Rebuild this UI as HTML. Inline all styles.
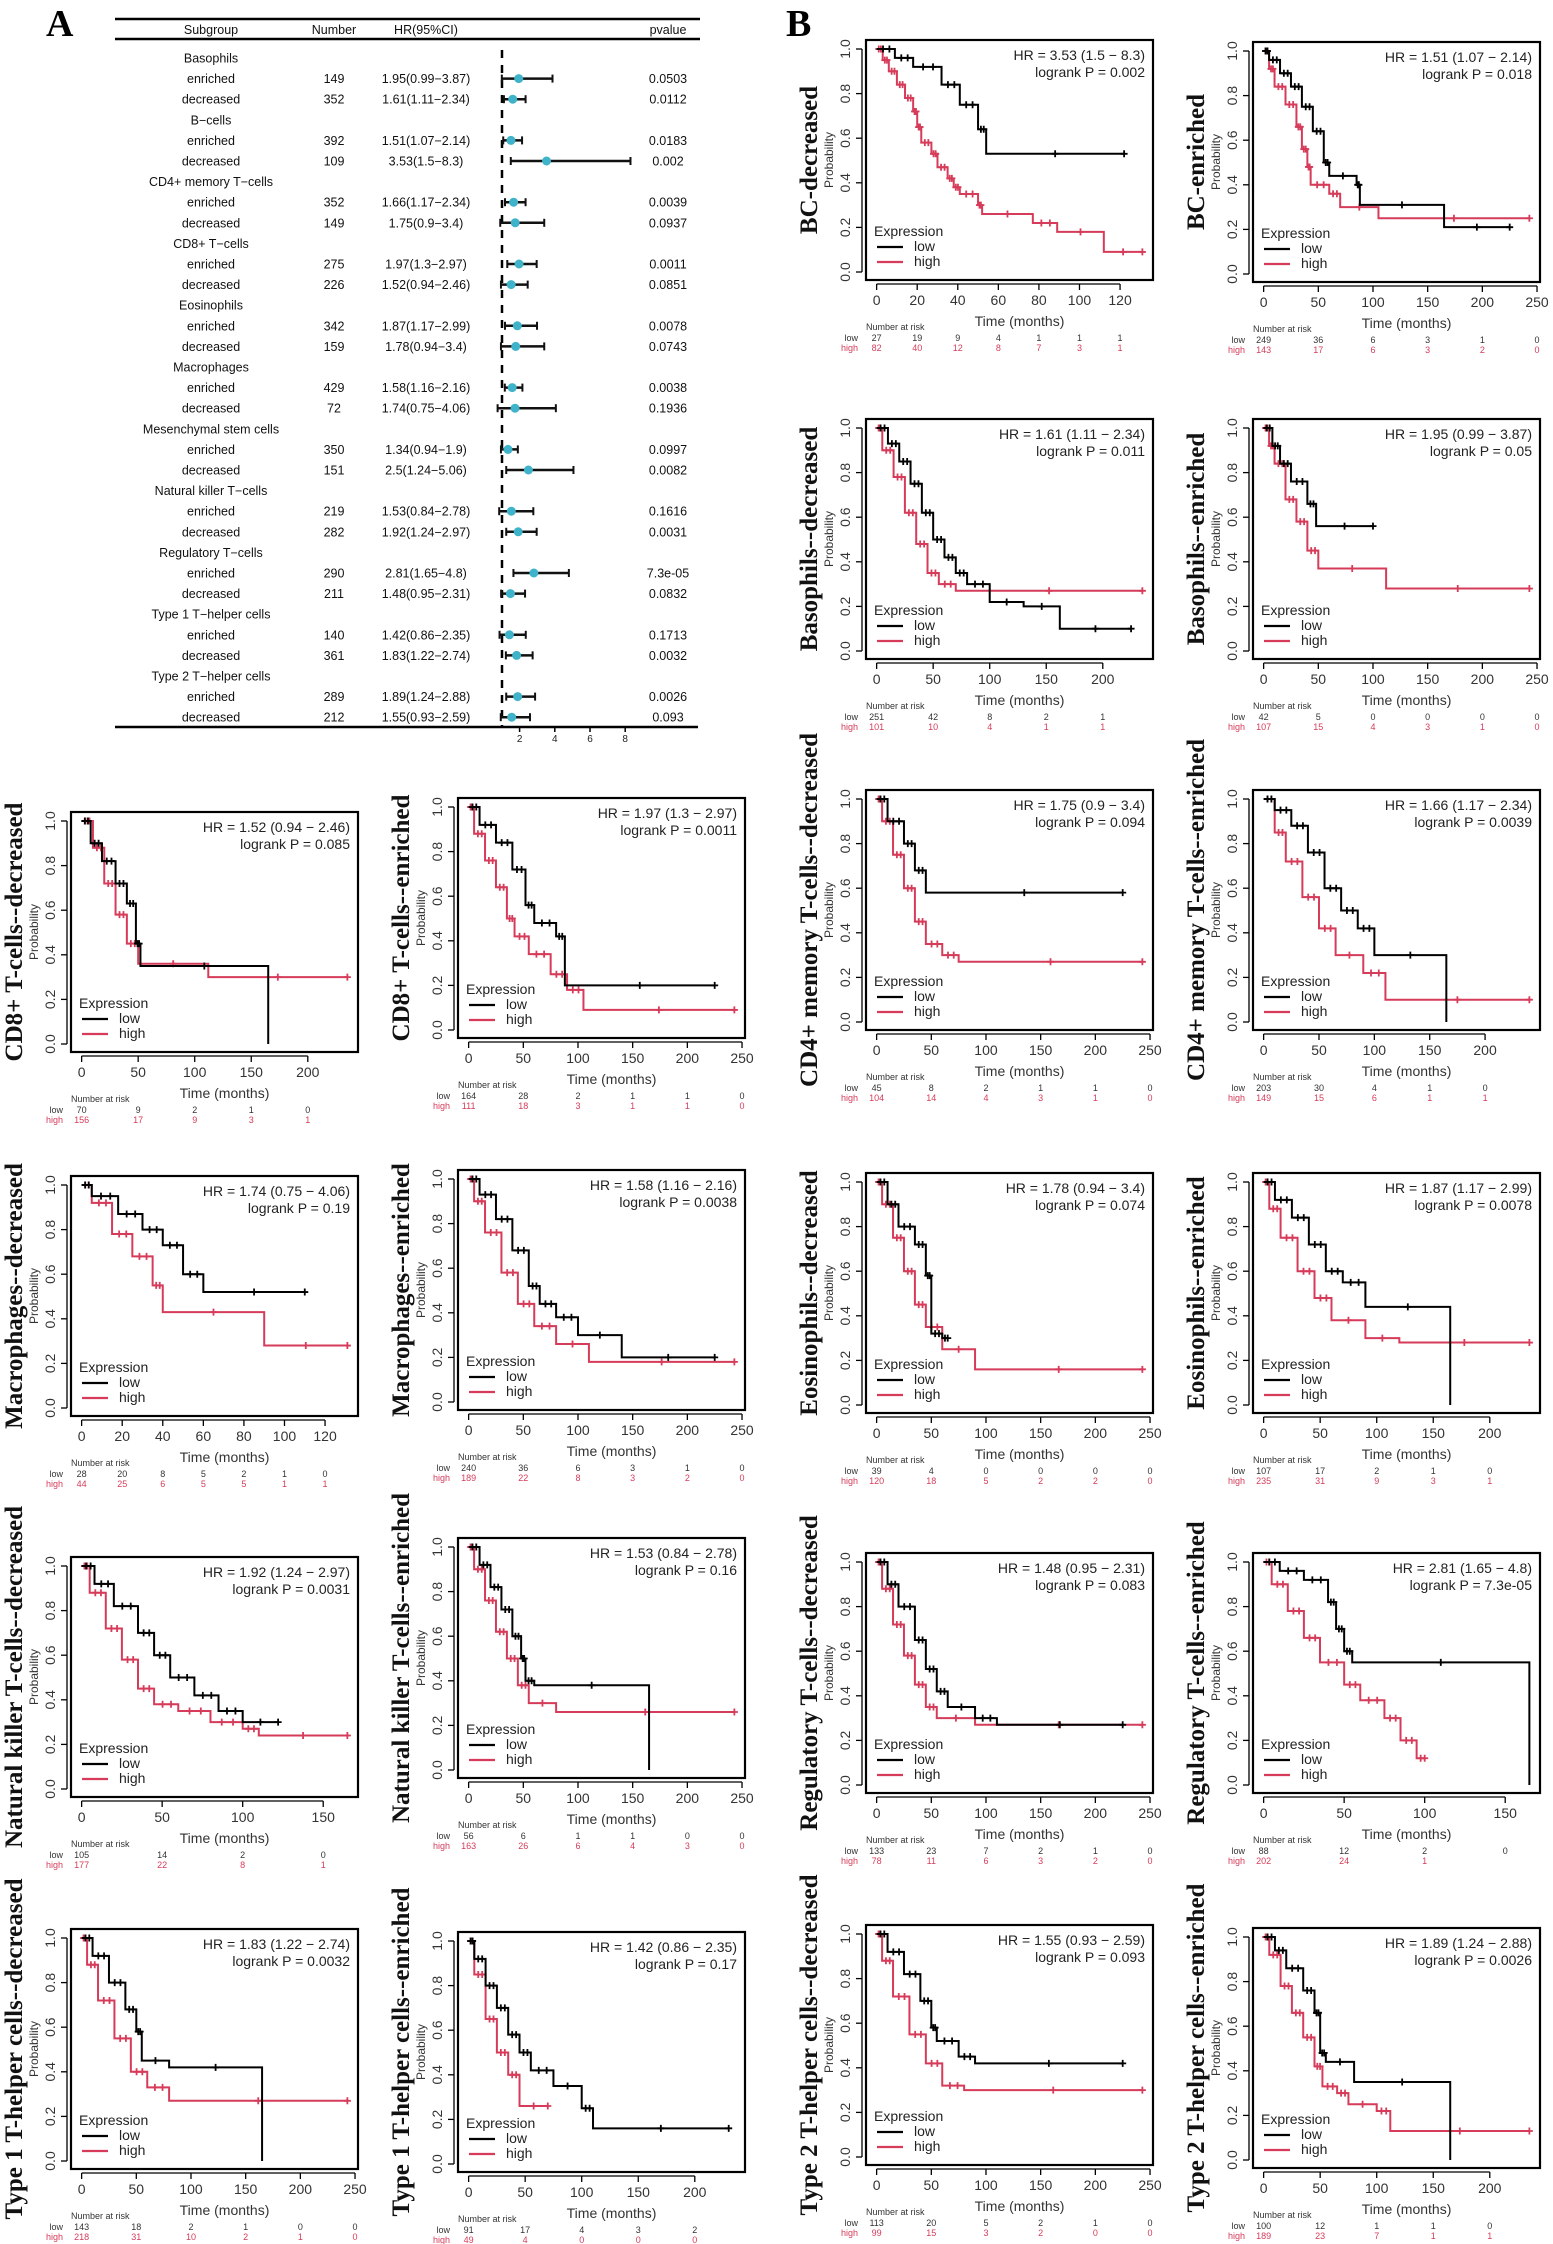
<!DOCTYPE html>
<html><head><meta charset="utf-8"><style>
html,body{margin:0;padding:0;background:#fff}
svg{display:block}
text{font-family:"Liberation Sans",sans-serif}
.serif{font-family:"Liberation Serif",serif;font-weight:bold}
</style></head><body>
<svg id="fig" width="1553" height="2244" viewBox="0 0 1553 2244" xmlns="http://www.w3.org/2000/svg">
<text class="serif" x="46" y="36" font-size="38">A</text>
<text class="serif" x="786" y="36" font-size="38">B</text>
</svg>
<script>
// ---------- Forest plot data ----------
const fGroups=["Basophils","B−cells","CD4+ memory T−cells","CD8+ T−cells","Eosinophils","Macrophages","Mesenchymal stem cells","Natural killer T−cells","Regulatory T−cells","Type 1 T−helper cells","Type 2 T−helper cells"];
const fSub=["enriched","decreased"];
const fNumber=[149,352,392,109,352,149,275,226,342,159,429,72,350,151,219,282,290,211,140,361,289,212];
const fHR=[1.95,1.61,1.51,3.53,1.66,1.75,1.97,1.52,1.87,1.78,1.58,1.74,1.34,2.5,1.53,1.92,2.81,1.48,1.42,1.83,1.89,1.55];
const fLo=[0.99,1.11,1.07,1.5,1.17,0.9,1.3,0.94,1.17,0.94,1.16,0.75,0.94,1.24,0.84,1.24,1.65,0.95,0.86,1.22,1.24,0.93];
const fHi=[3.87,2.34,2.14,8.3,2.34,3.4,2.97,2.46,2.99,3.4,2.16,4.06,1.9,5.06,2.78,2.97,4.8,2.31,2.35,2.74,2.88,2.59];
const fP=["0.0503","0.0112","0.0183","0.002","0.0039","0.0937","0.0011","0.0851","0.0078","0.0743","0.0038","0.1936","0.0997","0.0082","0.1616","0.0031","7.3e-05","0.0832","0.1713","0.0032","0.0026","0.093"];
const fTicks=[2,4,6,8];

// ---------- KM panels data ----------
const panels=[
{title:"BC-decreased",hr:"HR = 3.53 (1.5 − 8.3)",p:"logrank P = 0.002",xmax:131,ticks:[0,20,40,60,80,100,120],rl:[27,19,9,4,1,1,1],rh:[82,40,12,8,7,3,1],
 low:[[9,.96],[18,.92],[32,.84],[41,.75],[50,.64],[54,.53]],lowEnd:122,
 high:[[3,.95],[6,.9],[10,.84],[14,.78],[18,.72],[20,.65],[22,.58],[27,.53],[30,.47],[35,.42],[38,.38],[41,.35],[50,.3],[52,.26],[77,.22],[89,.18],[112,.09]],highEnd:131},
{title:"BC-enriched",hr:"HR = 1.51 (1.07 − 2.14)",p:"logrank P = 0.018",xmax:243,ticks:[0,50,100,150,200,250],rl:[249,36,6,3,1,0],rh:[143,17,6,3,2,0],
 low:[[5,.96],[15,.9],[25,.84],[35,.75],[45,.64],[55,.5],[60,.44],[85,.4],[88,.31],[165,.21]],lowEnd:225,
 high:[[5,.92],[10,.84],[20,.76],[30,.66],[35,.56],[40,.48],[43,.4],[60,.36],[70,.3],[105,.25]],highEnd:243},
{title:"Basophils--decreased",hr:"HR = 1.61 (1.11 − 2.34)",p:"logrank P = 0.011",xmax:235,ticks:[0,50,100,150,200],rl:[251,42,8,2,1],rh:[101,10,4,1,1],
 low:[[10,.93],[20,.85],[30,.75],[40,.62],[50,.5],[60,.42],[70,.35],[80,.3],[100,.22],[130,.2],[162,.1]],lowEnd:225,
 high:[[5,.9],[15,.78],[25,.62],[35,.48],[45,.35],[55,.3],[70,.27]],highEnd:235},
{title:"Basophils--enriched",hr:"HR = 1.95 (0.99 − 3.87)",p:"logrank P = 0.05",xmax:243,ticks:[0,50,100,150,200,250],rl:[42,5,0,0,0,0],rh:[107,15,4,3,1,0],
 low:[[8,.92],[15,.84],[25,.76],[40,.66],[48,.56]],lowEnd:100,
 high:[[5,.92],[10,.84],[20,.68],[30,.58],[40,.45],[50,.37],[112,.28]],highEnd:243},
{title:"CD8+ T-cells--decreased",hr:"HR = 1.52 (0.94 − 2.46)",p:"logrank P = 0.085",xmax:235,ticks:[0,50,100,150,200],rl:[70,9,2,1,0],rh:[156,17,9,3,1],
 low:[[8,.9],[18,.82],[30,.72],[40,.63],[48,.45],[52,.35],[165,0]],lowEnd:165,
 high:[[10,.88],[20,.72],[30,.58],[40,.45],[50,.36],[112,.3]],highEnd:235},
{title:"CD8+ T-cells--enriched",hr:"HR = 1.97 (1.3 − 2.97)",p:"logrank P = 0.0011",xmax:243,ticks:[0,50,100,150,200,250],rl:[164,28,2,1,1,0],rh:[111,18,3,1,1,0],
 low:[[10,.92],[25,.84],[40,.72],[52,.56],[60,.48],[80,.42],[88,.2]],lowEnd:225,
 high:[[5,.88],[15,.76],[25,.64],[35,.5],[42,.42],[55,.34],[75,.25],[90,.18],[105,.09]],highEnd:243},
{title:"CD4+ memory T-cells--decreased",hr:"HR = 1.75 (0.9 − 3.4)",p:"logrank P = 0.094",xmax:243,ticks:[0,50,100,150,200,250],rl:[45,8,2,1,1,0],rh:[104,14,4,3,1,0],
 low:[[10,.9],[25,.8],[35,.68],[45,.58]],lowEnd:225,
 high:[[5,.9],[15,.75],[25,.6],[35,.45],[45,.35],[60,.3],[75,.27]],highEnd:243},
{title:"CD4+ memory T-cells--enriched",hr:"HR = 1.66 (1.17 − 2.34)",p:"logrank P = 0.0039",xmax:240,ticks:[0,50,100,150,200],rl:[203,30,4,1,0],rh:[149,15,6,1,1],
 low:[[10,.95],[25,.88],[40,.76],[55,.6],[70,.5],[85,.42],[100,.3],[165,0]],lowEnd:165,
 high:[[10,.85],[20,.72],[35,.56],[50,.42],[65,.3],[90,.22],[110,.1]],highEnd:240},
{title:"Macrophages--decreased",hr:"HR = 1.74 (0.75 − 4.06)",p:"logrank P = 0.19",xmax:131,ticks:[0,20,40,60,80,100,120],rl:[28,20,8,5,2,1,0],rh:[44,25,6,5,5,1,1],
 low:[[5,.95],[18,.87],[30,.8],[40,.73],[50,.6],[60,.52]],lowEnd:110,
 high:[[5,.92],[15,.78],[25,.68],[35,.55],[40,.43],[90,.28]],highEnd:131},
{title:"Macrophages--enriched",hr:"HR = 1.58 (1.16 − 2.16)",p:"logrank P = 0.0038",xmax:243,ticks:[0,50,100,150,200,250],rl:[240,36,6,3,1,0],rh:[189,22,8,3,2,0],
 low:[[10,.93],[25,.82],[40,.68],[55,.52],[65,.44],[80,.38],[100,.3],[140,.2]],lowEnd:225,
 high:[[5,.9],[15,.76],[30,.58],[45,.44],[60,.34],[80,.26],[110,.18]],highEnd:243},
{title:"Eosinophils--decreased",hr:"HR = 1.78 (0.94 − 3.4)",p:"logrank P = 0.074",xmax:243,ticks:[0,50,100,150,200,250],rl:[39,4,0,0,0,0],rh:[120,18,5,2,2,0],
 low:[[10,.9],[20,.8],[35,.72],[45,.58],[50,.32],[60,.3]],lowEnd:65,
 high:[[5,.9],[15,.75],[25,.6],[35,.45],[45,.35],[60,.25],[90,.16]],highEnd:243},
{title:"Eosinophils--enriched",hr:"HR = 1.87 (1.17 − 2.99)",p:"logrank P = 0.0078",xmax:235,ticks:[0,50,100,150,200],rl:[107,17,2,1,0],rh:[235,31,9,3,1],
 low:[[10,.92],[25,.84],[40,.72],[55,.6],[70,.55],[90,.44],[165,0]],lowEnd:165,
 high:[[5,.88],[15,.75],[30,.6],[45,.48],[60,.38],[90,.3],[120,.28]],highEnd:235},
{title:"Natural killer T-cells--decreased",hr:"HR = 1.92 (1.24 − 2.97)",p:"logrank P = 0.0031",xmax:165,ticks:[0,50,100,150],rl:[105,14,2,0],rh:[177,22,8,1],
 low:[[8,.92],[20,.82],[35,.7],[45,.6],[55,.5],[70,.42],[85,.35],[100,.3]],lowEnd:122,
 high:[[5,.88],[15,.72],[25,.58],[35,.45],[45,.38],[60,.35],[80,.3],[100,.27],[110,.24]],highEnd:165},
{title:"Natural killer T-cells--enriched",hr:"HR = 1.53 (0.84 − 2.78)",p:"logrank P = 0.16",xmax:243,ticks:[0,50,100,150,200,250],rl:[56,6,1,1,0,0],rh:[163,26,6,4,3,0],
 low:[[10,.92],[20,.82],[30,.72],[40,.6],[48,.5],[52,.4],[60,.38],[165,0]],lowEnd:165,
 high:[[5,.9],[15,.76],[25,.62],[35,.5],[45,.38],[55,.3],[80,.26]],highEnd:243},
{title:"Regulatory T-cells--decreased",hr:"HR = 1.48 (0.95 − 2.31)",p:"logrank P = 0.083",xmax:243,ticks:[0,50,100,150,200,250],rl:[133,23,7,2,1,0],rh:[78,11,6,3,2,0],
 low:[[10,.9],[20,.8],[35,.65],[45,.52],[55,.42],[65,.35],[90,.3],[110,.27]],lowEnd:225,
 high:[[5,.88],[15,.72],[25,.58],[35,.45],[45,.35],[55,.3],[90,.27]],highEnd:243},
{title:"Regulatory T-cells--enriched",hr:"HR = 2.81 (1.65 − 4.8)",p:"logrank P = 7.3e-05",xmax:165,ticks:[0,50,100,150],rl:[88,12,2,0],rh:[202,24,1,""],
 low:[[10,.96],[25,.92],[40,.82],[45,.7],[50,.6],[55,.55],[165,0]],lowEnd:165,
 high:[[5,.9],[15,.78],[25,.66],[35,.55],[50,.45],[60,.38],[75,.3],[85,.2],[95,.12]],highEnd:100},
{title:"Type 1 T-helper cells--decreased",hr:"HR = 1.83 (1.22 − 2.74)",p:"logrank P = 0.0032",xmax:243,ticks:[0,50,100,150,200,250],rl:[143,18,2,1,0,0],rh:[218,31,10,2,1,0],
 low:[[10,.92],[25,.8],[40,.68],[50,.58],[55,.45],[80,.42],[165,0]],lowEnd:165,
 high:[[5,.88],[15,.72],[30,.55],[45,.4],[60,.33],[80,.27]],highEnd:243},
{title:"Type 1 T-helper cells--enriched",hr:"HR = 1.42 (0.86 − 2.35)",p:"logrank P = 0.17",xmax:235,ticks:[0,50,100,150,200],rl:[91,17,4,3,2],rh:[49,4,0,0,0],
 low:[[5,.92],[15,.8],[25,.7],[35,.58],[45,.5],[55,.42],[75,.35],[100,.25],[110,.16]],lowEnd:230,
 high:[[5,.85],[15,.65],[25,.5],[35,.4],[45,.26]],highEnd:70},
{title:"Type 2 T-helper cells--decreased",hr:"HR = 1.55 (0.93 − 2.59)",p:"logrank P = 0.093",xmax:243,ticks:[0,50,100,150,200,250],rl:[113,20,5,2,1,0],rh:[99,15,3,2,0,0],
 low:[[10,.92],[25,.82],[40,.7],[50,.58],[55,.52],[75,.45],[90,.42]],lowEnd:225,
 high:[[5,.88],[15,.72],[30,.55],[45,.42],[60,.32],[80,.3]],highEnd:243},
{title:"Type 2 T-helper cells--enriched",hr:"HR = 1.89 (1.24 − 2.88)",p:"logrank P = 0.0026",xmax:235,ticks:[0,50,100,150,200],rl:[100,12,1,1,0],rh:[189,23,7,1,1],
 low:[[10,.94],[20,.86],[35,.76],[45,.66],[50,.48],[55,.44],[80,.35],[165,0]],lowEnd:165,
 high:[[5,.92],[15,.78],[25,.66],[35,.55],[45,.42],[52,.33],[65,.3],[75,.25],[100,.22],[112,.13]],highEnd:235}
];
const yTicks=[0,0.2,0.4,0.6,0.8,1.0];
</script>
<script>
const NS="http://www.w3.org/2000/svg";
const svg=document.getElementById('fig');
function mk(tag,attrs,parent,txt){const e=document.createElementNS(NS,tag);for(const k in attrs)e.setAttribute(k,attrs[k]);if(txt!==undefined)e.textContent=txt;(parent||svg).appendChild(e);return e;}
const RED="#d63c5a";

// ---------- Forest plot ----------
(function(){
  const g=mk('g',{});
  
  
  const row0=58, dy=20.6;
  const fx=v=>502+(v-1)*17.6;
  let l=mk('line',{x1:115,x2:700,y1:19,y2:19,stroke:'#000','stroke-width':2.5},g);
  
  
  l=mk('line',{x1:115,x2:700,y1:39,y2:39,stroke:'#000','stroke-width':2.5},g);
  
  
  const hdr=[["Subgroup",211],["Number",334],["HR(95%CI)",426],["pvalue",668]];
  hdr.forEach(h=>{const t=mk('text',{x:h[1],y:34,'font-size':12.5,'text-anchor':'middle',fill:'#111'},g,h[0]);
    
    });
  const nRows=fGroups.length*3;
  const yb=row0+(nRows-1)*dy;
  l=mk('line',{x1:fx(1),x2:fx(1),y1:row0-8,y2:yb+10,stroke:'#000','stroke-width':2.5,'stroke-dasharray':'8,7'},g);
  
  
  fGroups.forEach((gn,gi)=>{
    const y=row0+gi*3*dy;
    const t=mk('text',{x:211,y:y+4.5,'font-size':12.5,'text-anchor':'middle',fill:'#111'},g,gn);
    
    
    fSub.forEach((sn,si)=>{
      const i=gi*2+si, yy=y+(si+1)*dy;
      const a=mk('text',{x:211,y:yy+4.5,'font-size':12.5,'text-anchor':'middle',fill:'#111'},g,sn);
      
      
      const b=mk('text',{x:334,y:yy+4.5,'font-size':12.5,'text-anchor':'middle',fill:'#111'},g,fNumber[i]);
      
      
      const c=mk('text',{x:426,y:yy+4.5,'font-size':12.5,'text-anchor':'middle',fill:'#111'},g,fHR[i]+"("+fLo[i]+"−"+fHi[i]+")");
      
      
      const d=mk('text',{x:668,y:yy+4.5,'font-size':12.5,'text-anchor':'middle',fill:'#111'},g,fP[i]);
      
      
      const ci=mk('line',{x1:fx(fLo[i]),x2:fx(fHi[i]),y1:yy,y2:yy,stroke:'#111','stroke-width':2.5},g);
      
      
      [fLo[i],fHi[i]].forEach(v=>{const c2=mk('line',{x1:fx(v),x2:fx(v),y1:yy-4,y2:yy+4,stroke:'#111','stroke-width':2},g);
        
        });
      const pt=mk('circle',{cx:fx(fHR[i]),cy:yy,r:4.5,fill:'#3fb3c9'},g);
      
      
    });
  });
  l=mk('line',{x1:115,x2:698,y1:727,y2:727,stroke:'#000','stroke-width':2.5},g);
  
  
  fTicks.forEach(v=>{
    const tk=mk('line',{x1:fx(v),x2:fx(v),y1:727,y2:732,stroke:'#000','stroke-width':1.5},g);
    
    
    const tl=mk('text',{x:fx(v),y:742,'font-size':10,'text-anchor':'middle',fill:'#222'},g,v);
    
    
  });
})();

// ---------- KM panels ----------
const panelBoxes=[[866,40],[1253,42],[866,419],[1253,419],[71,812],[458,798],[866,790],[1253,790],[71,1176],[458,1170],[866,1173],[1253,1173],[71,1557],[458,1538],[866,1553],[1253,1553],[71,1929],[458,1932],[866,1925],[1253,1928]];
const W=287,H=240;
panels.forEach((p,pi)=>{
  const L=panelBoxes[pi][0],T=panelBoxes[pi][1];
  const g=mk('g',{});
  
  
  const D=p.xmax;
  const sx=t=>L+(0.04*D+t)/(1.08*D)*W;
  const sy=s=>T+9+(1-s)*223;
  const box=mk('rect',{x:L,y:T,width:W,height:H,fill:'none',stroke:'#000','stroke-width':2.2},g);
  
  
  let ax=mk('line',{x1:L-4,x2:L-4,y1:sy(0),y2:sy(1),stroke:'#000','stroke-width':1.3},g);
  
  
  yTicks.forEach(v=>{
    const tk=mk('line',{x1:L-10,x2:L-4,y1:sy(v),y2:sy(v),stroke:'#000','stroke-width':1.3},g);
    
    
    const tl=mk('text',{x:0,y:0,'font-size':14,'text-anchor':'middle',fill:'#333',transform:`translate(${L-16},${sy(v)}) rotate(-90)`},g,v.toFixed(1));
    
    
  });
  const yl=mk('text',{x:0,y:0,'font-size':12,'text-anchor':'middle',fill:'#333',transform:`translate(${L-33},${T+H/2}) rotate(-90)`},g,'Probability');
  
  
  const tt=mk('text',{x:0,y:0,'font-size':25,'text-anchor':'middle',fill:'#111',class:'serif',transform:`translate(${L-49},${T+H/2}) rotate(-90)`},g,p.title);
  
  
  ax=mk('line',{x1:sx(p.ticks[0]),x2:sx(p.ticks[p.ticks.length-1]),y1:T+H+4,y2:T+H+4,stroke:'#000','stroke-width':1.3},g);
  
  
  p.ticks.forEach((v,k)=>{
    const tk=mk('line',{x1:sx(v),x2:sx(v),y1:T+H+4,y2:T+H+10,stroke:'#000','stroke-width':1.3},g);
    
    
    const tl=mk('text',{x:sx(v),y:T+H+25,'font-size':14,'text-anchor':'middle',fill:'#333'},g,v);
    
    
    const rl=mk('text',{x:sx(v),y:T+H+61,'font-size':9,'text-anchor':'middle',fill:'#333'},g,p.rl[k]);
    
    
    const rh=mk('text',{x:sx(v),y:T+H+71,'font-size':9,'text-anchor':'middle',fill:RED},g,p.rh[k]);
    
    
  });
  const xt=mk('text',{x:L+W/2+10,y:T+H+46,'font-size':14,'text-anchor':'middle',fill:'#333'},g,'Time (months)');
  
  
  const nr=mk('text',{x:L,y:T+H+50,'font-size':9,fill:'#333'},g,'Number at risk');
  
  
  let rlab=mk('text',{x:L-8,y:T+H+61,'font-size':9,'text-anchor':'end',fill:'#333'},g,'low');
  
  
  rlab=mk('text',{x:L-8,y:T+H+71,'font-size':9,'text-anchor':'end',fill:RED},g,'high');
  
  
  const h1=mk('text',{x:L+W-8,y:T+20,'font-size':14,'text-anchor':'end',fill:'#222'},g,p.hr);
  
  
  const h2=mk('text',{x:L+W-8,y:T+37,'font-size':14,'text-anchor':'end',fill:'#222'},g,p.p);
  
  
  function curve(steps,end,color,name){
    let d=`M${sx(0)},${sy(1)}`;let cur=1,t0=0;const marks=[];
    steps.forEach(s=>{
      const len=s[0]-t0;
      if(len<=20){marks.push([t0+len*0.35,cur]);marks.push([t0+len*0.7,cur]);}
      else marks.push([(t0+s[0])/2,cur]);
      d+=` H${sx(s[0])} V${sy(s[1])}`;cur=s[1];t0=s[0];});
    d+=` H${sx(end)}`;marks.push([(t0+end)/2,cur]);marks.push([end,cur]);
    const pa=mk('path',{d:d,fill:'none',stroke:color,'stroke-width':2},g);
    
    
    marks.forEach(m=>{if(m[1]<=0)return;const x=sx(m[0]),y=sy(m[1]);
      const c=mk('path',{d:`M${x-3.5},${y}H${x+3.5}M${x},${y-3.5}V${y+3.5}`,stroke:color,'stroke-width':1.8},g);
      
      });
  }
  curve(p.high,p.highEnd,RED,'high');
  curve(p.low,p.lowEnd,'#000','low');
  const lg=mk('g',{},g);
  
  
  const lt=mk('text',{x:L+8,y:T+196,'font-size':14,fill:'#222'},lg,'Expression');
  
  
  [['low','#000',T+211],['high',RED,T+226]].forEach(e=>{
    const ln=mk('line',{x1:L+11,x2:L+37,y1:e[2]-4,y2:e[2]-4,stroke:e[1],'stroke-width':2.2},lg);
    
    
    const tx=mk('text',{x:L+48,y:e[2],'font-size':14,fill:'#222'},lg,e[0]);
    
    
  });
});
</script>
</body></html>
